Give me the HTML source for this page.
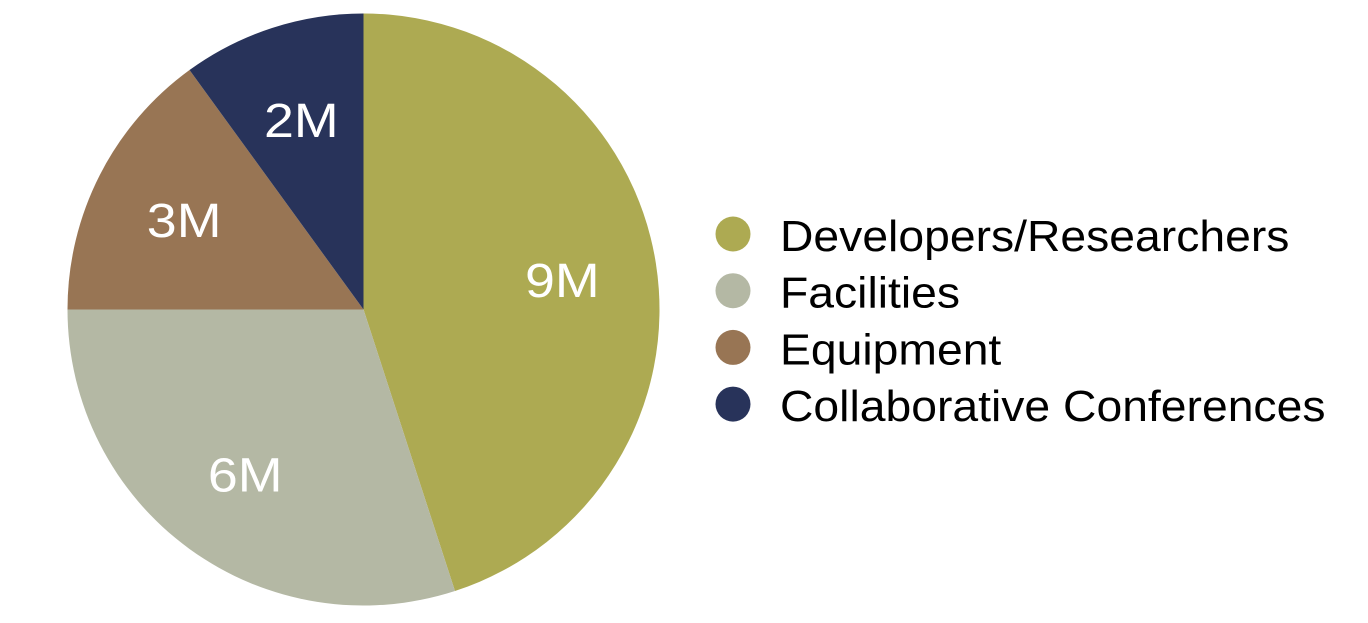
<!DOCTYPE html>
<html><head><meta charset="utf-8"><style>
html,body{margin:0;padding:0;background:#fff;width:1368px;height:623px;overflow:hidden}
svg{display:block;font-family:"Liberation Sans",Arial,sans-serif}
</style></head><body>
<svg id="chart" width="1368" height="623" viewBox="0 0 1368 623">
<g id="slices"></g><g id="labels"></g><g id="legend"></g>
</svg>
<script>
const categories = ["Developers/Researchers","Facilities","Equipment","Collaborative Conferences"];
const values = [9,6,3,2];
const valueLabels = ["9M","6M","3M","2M"];
const colors = ["#ADAA52","#B4B8A4","#987554","#28335A"];
const NS="http://www.w3.org/2000/svg";
const cx=363.5, cy=309.5, r=296;
const total=values.reduce((a,b)=>a+b,0);
const sl=document.getElementById('slices'), lb=document.getElementById('labels'), lg=document.getElementById('legend');
let a0=0;
const pt=(a,rr)=>[cx+rr*Math.sin(a), cy-rr*Math.cos(a)];
values.forEach((v,i)=>{
  const a1=a0+v/total*2*Math.PI;
  const [x0,y0]=pt(a0,r),[x1,y1]=pt(a1,r);
  const p=document.createElementNS(NS,'path');
  p.setAttribute('d',`M${cx},${cy}L${x0},${y0}A${r},${r} 0 ${a1-a0>Math.PI?1:0} 1 ${x1},${y1}Z`);
  p.setAttribute('fill',colors[i]);
  
  
  sl.appendChild(p);
  const m=(a0+a1)/2; const [lx,ly]=pt(m,r*0.68);
  const t=document.createElementNS(NS,'text');
  t.setAttribute('x',lx); t.setAttribute('y',ly+19);
  t.setAttribute('text-anchor','middle'); t.setAttribute('font-size','48'); t.setAttribute('fill','#fff');
  t.textContent=valueLabels[i];
  
  
  lb.appendChild(t);
  const w=t.getComputedTextLength();
  t.setAttribute('textLength',w*1.12); t.setAttribute('lengthAdjust','spacingAndGlyphs');
  a0=a1;
});
categories.forEach((c,i)=>{
  const y=234+i*56.7;
  const g=document.createElementNS(NS,'g');
  
  
  const ci=document.createElementNS(NS,'circle');
  ci.setAttribute('cx',733); ci.setAttribute('cy',y); ci.setAttribute('r',17.5); ci.setAttribute('fill',colors[i]);
  
  
  const t=document.createElementNS(NS,'text');
  t.setAttribute('x',780); t.setAttribute('y',y+17); t.setAttribute('font-size','44'); t.setAttribute('fill','#000');
  t.textContent=c;
  
  
  g.appendChild(ci); g.appendChild(t); lg.appendChild(g);
  const w=t.getComputedTextLength();
  t.setAttribute('textLength',w*1.052); t.setAttribute('lengthAdjust','spacingAndGlyphs');
});
</script>
</body></html>
